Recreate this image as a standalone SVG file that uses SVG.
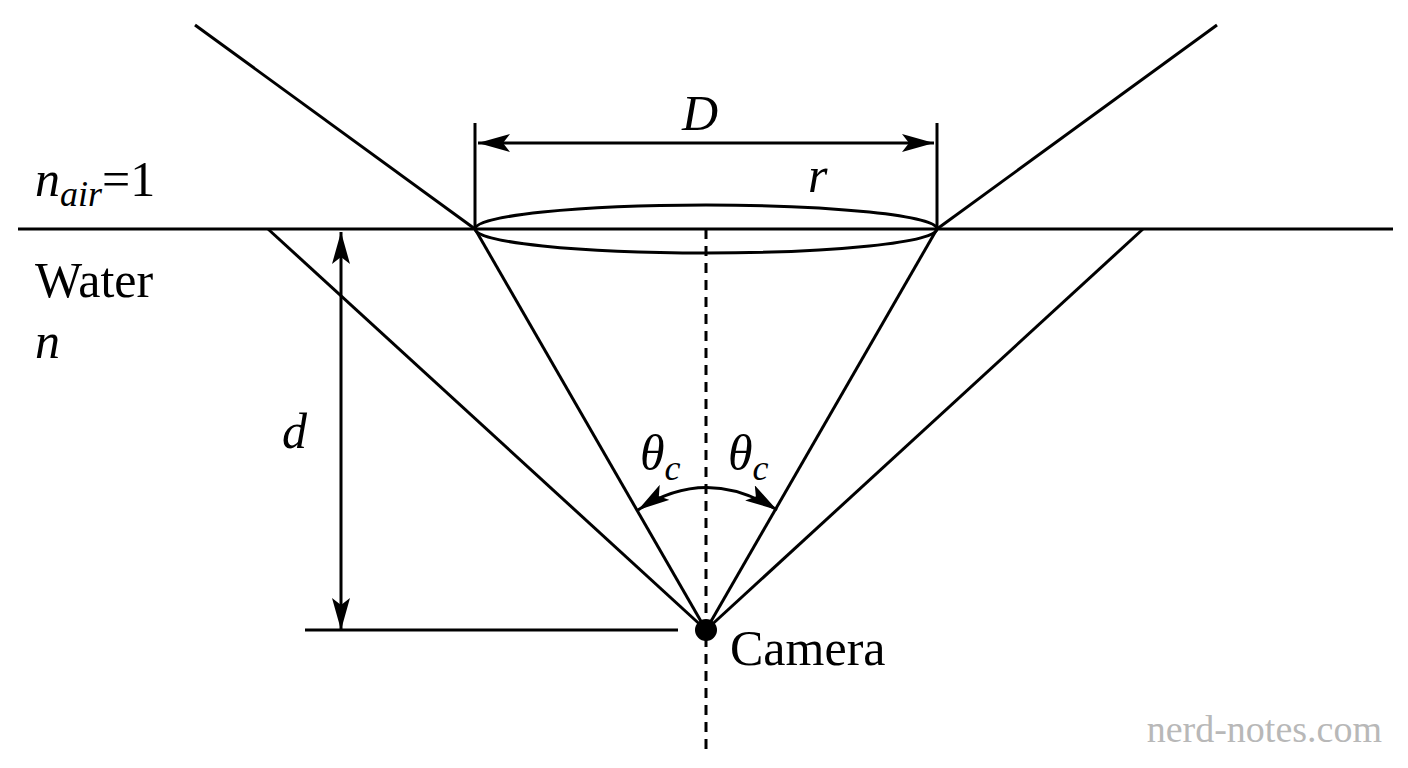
<svg xmlns="http://www.w3.org/2000/svg" width="1408" height="768" viewBox="0 0 1408 768">
<style>
.l{stroke:#000;stroke-width:3;fill:none}
text{font-family:'Liberation Serif','Times New Roman',serif;font-size:50px;fill:#000}
.i{font-style:italic}
.s{font-size:36px}
.w{font-size:38px;fill:#b8b8b8}
</style>
<defs>
<marker id="b" viewBox="0 0 32 18" refX="32" refY="9" markerWidth="32" markerHeight="18" markerUnits="userSpaceOnUse" orient="auto-start-reverse"><path d="M0,0 L32,9 L0,18 L7,9 z" fill="#000"/></marker>
</defs>
<rect width="1408" height="768" fill="#fff"/>
<g id="connectors">
<line class="l" x1="18" y1="229" x2="1393" y2="229"/>
<ellipse class="l" cx="706" cy="229" rx="231" ry="24"/>
<line class="l" x1="195" y1="25" x2="475" y2="229"/>
<line class="l" x1="937" y1="229" x2="1217" y2="25"/>
<line class="l" x1="475" y1="229" x2="706" y2="630"/>
<line class="l" x1="937" y1="229" x2="706" y2="630"/>
<line class="l" x1="268" y1="229" x2="706" y2="630"/>
<line class="l" x1="1143" y1="229" x2="706" y2="630"/>
<line class="l" x1="706" y1="229" x2="706" y2="752" stroke-dasharray="10,7"/>
<line class="l" x1="475" y1="123" x2="475" y2="229"/>
<line class="l" x1="937" y1="123" x2="937" y2="229"/>
<line class="l" x1="478" y1="143" x2="934" y2="143" marker-start="url(#b)" marker-end="url(#b)"/>
<line class="l" x1="341" y1="232" x2="341" y2="630" marker-start="url(#b)" marker-end="url(#b)"/>
<line class="l" x1="305" y1="630" x2="678" y2="630"/>
<path class="l" d="M638,510 Q706,465 777,510" marker-start="url(#b)" marker-end="url(#b)"/>
</g>
<g id="camera"><circle cx="706" cy="630" r="11" fill="#000"/><text x="730" y="665">Camera</text></g>
<g id="labels">
<text class="i" x="682" y="130">D</text>
<text class="i" x="808" y="192">r</text>
<text x="35" y="196"><tspan class="i">n</tspan><tspan class="i s" dy="10">air</tspan><tspan dy="-10">=1</tspan></text>
<text x="35" y="297">Water</text>
<text class="i" x="35" y="358">n</text>
<text class="i" x="282" y="448">d</text>
<text class="i" x="640" y="470">θ<tspan class="s" dy="10">c</tspan></text>
<text class="i" x="728" y="470">θ<tspan class="s" dy="10">c</tspan></text>
<text class="w" x="1382" y="742" text-anchor="end">nerd-notes.com</text>
</g>
</svg>
